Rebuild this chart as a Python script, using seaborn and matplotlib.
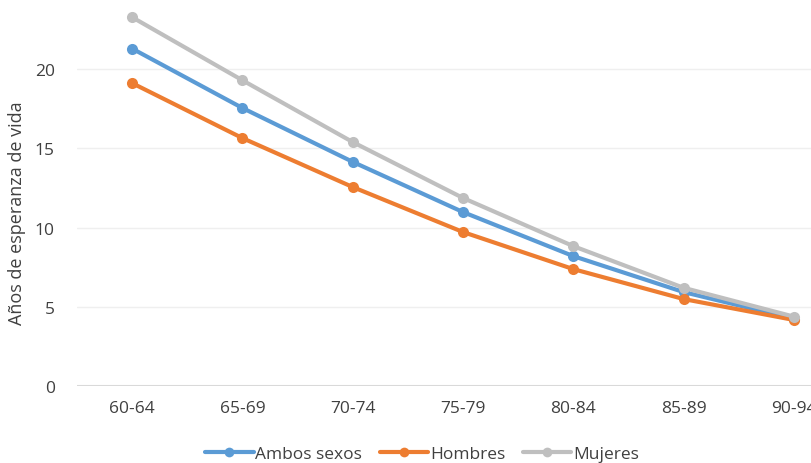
import matplotlib
matplotlib.use("Agg")
import matplotlib.pyplot as plt
import seaborn as sns
import pandas as pd

# Esperanza de vida por grupo de edad
grupos = ["60-64", "65-69", "70-74", "75-79", "80-84", "85-89", "90-94"]
ambos_sexos = [21.3, 17.55, 14.15, 10.98, 8.2, 5.93, 4.25]
hombres = [19.12, 15.65, 12.56, 9.72, 7.38, 5.49, 4.17]
mujeres = [23.28, 19.3, 15.4, 11.87, 8.83, 6.2, 4.38]

series = {"Ambos sexos": ambos_sexos, "Hombres": hombres, "Mujeres": mujeres}
colores = {"Ambos sexos": "#5B9BD5", "Hombres": "#ED7D31", "Mujeres": "#BFBFBF"}

df = pd.DataFrame(
    [(g, s, v) for s, vals in series.items() for g, v in zip(grupos, vals)],
    columns=["grupo", "serie", "valor"],
)
df["pos"] = df["grupo"].map({g: i for i, g in enumerate(grupos)})

sns.set_style("white")
plt.rcParams["font.family"] = ["Open Sans", "DejaVu Sans"]

fig = plt.figure(figsize=(8.12, 4.64), dpi=100)
ax = fig.add_axes([77 / 812, 77 / 464, 772 / 812, 396 / 464])

sns.lineplot(
    data=df, x="pos", y="valor", hue="serie", palette=colores,
    marker="o", markersize=8, linewidth=3, markeredgewidth=0,
    ax=ax, legend=False,
)

ax.set_xlim(-0.5, len(grupos) - 0.5)
ax.set_ylim(0, 25)
ax.set_xticks(range(len(grupos)))
ax.set_xticklabels(grupos)
ax.set_yticks([0, 5, 10, 15, 20])
ax.yaxis.grid(True, color="#EFEFEF", linewidth=1)
ax.axhline(0, color="#D9D9D9", linewidth=1.5, zorder=1)
ax.set_axisbelow(True)
for s in ax.spines.values():
    s.set_visible(False)
ax.tick_params(axis="both", length=0, labelsize=12.5, colors="#404040")
ax.tick_params(axis="x", pad=10)
ax.tick_params(axis="y", pad=16)
ax.set_xlabel("")
ax.set_ylabel("Años de esperanza de vida", fontsize=13, color="#404040")
ax.yaxis.set_label_coords(-51 / 772, 0.44)

handles = [
    plt.Line2D([], [], color=colores[s], marker="o", markersize=7, linewidth=3, markeredgewidth=0)
    for s in series
]
fig.legend(
    handles, list(series), loc="center", bbox_to_anchor=(422 / 812, 1 - 455 / 464),
    ncol=3, frameon=False, fontsize=12.5, handlelength=2.8, handletextpad=0.1,
    columnspacing=1.0, labelcolor="#404040",
)

fig.savefig("out.png", dpi=100)
